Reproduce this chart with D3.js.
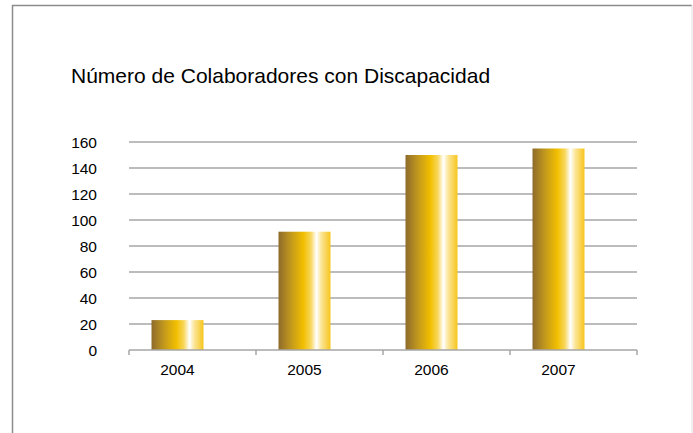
<!DOCTYPE html>
<html>
<head>
<meta charset="utf-8">
<script src="https://cdn.jsdelivr.net/npm/d3@7"></script>
<style>
  html, body { margin: 0; padding: 0; background: #fff; }
  svg { display: block; font-family: "Liberation Sans", Arial, sans-serif; }
</style>
</head>
<body>
<svg id="chart" width="693" height="433"></svg>
<script>
var years = ["2004", "2005", "2006", "2007"];
var colaboradores = [23, 91, 150, 155];
var yTicks = [0, 20, 40, 60, 80, 100, 120, 140, 160];
var chartTitle = "Número de Colaboradores con Discapacidad";

var svg = d3.select("#chart");
var plot = { left: 129, right: 637, top: 142, bottom: 350 };

// frame (the box runs off the bottom of the picture)
svg.append("path")
  .attr("d", "M12.5,433 V5.5 H692")
  .attr("fill", "none")
  .attr("stroke", "#8c8c8c")
  .attr("stroke-width", 1.5);
svg.append("line")
  .attr("x1", 692).attr("x2", 692).attr("y1", 5).attr("y2", 433)
  .attr("stroke", "#e0e0e0");

svg.append("text")
  .attr("x", 71).attr("y", 83)
  .attr("font-size", 21)
  .attr("fill", "#000")
  .text(chartTitle);

var x = d3.scaleBand().domain(years).range([plot.left, plot.right]);
var y = d3.scaleLinear().domain([0, 160]).range([plot.bottom, plot.top]);

// gradient for the cylinder look
var grad = svg.append("defs").append("linearGradient")
  .attr("id", "gold").attr("x1", "0").attr("x2", "1").attr("y1", "0").attr("y2", "0");
[[0, "#8e6b2c"], [0.25, "#c49a1c"], [0.48, "#f2bf00"], [0.62, "#f8d65a"],
 [0.73, "#ffffff"], [0.82, "#fbe69a"], [1, "#f7c51c"]].forEach(function(s) {
  grad.append("stop").attr("offset", s[0]).attr("stop-color", s[1]);
});

// gridlines
svg.append("g").selectAll("line").data(yTicks.slice(1)).join("line")
  .attr("x1", plot.left).attr("x2", plot.right)
  .attr("y1", function(d) { return y(d); }).attr("y2", function(d) { return y(d); })
  .attr("stroke", "#a6a6a6").attr("stroke-width", 1.5);

// y labels
svg.append("g").selectAll("text").data(yTicks).join("text")
  .attr("x", 97).attr("y", function(d) { return y(d) + 6; })
  .attr("text-anchor", "end")
  .attr("font-size", 15.5)
  .text(function(d) { return d; });

// bars sit left of the band centre, labels follow them
var barW = 52, shift = -15;
function barX(d) { return x(d) + x.bandwidth() / 2 + shift - barW / 2; }

svg.append("g").selectAll("rect").data(years).join("rect")
  .attr("x", barX)
  .attr("y", function(d, i) { return y(colaboradores[i]); })
  .attr("width", barW)
  .attr("height", function(d, i) { return y(0) - y(colaboradores[i]); })
  .attr("fill", "url(#gold)");

// x axis
var xAxis = svg.append("g").attr("transform", "translate(0," + plot.bottom + ")");
xAxis.append("line")
  .attr("x1", plot.left).attr("x2", plot.right)
  .attr("stroke", "#a6a6a6").attr("stroke-width", 1.5);
xAxis.selectAll("line.tick").data(years.concat(["end"])).join("line")
  .attr("class", "tick")
  .attr("x1", function(d) { return d === "end" ? plot.right : x(d); })
  .attr("x2", function(d) { return d === "end" ? plot.right : x(d); })
  .attr("y1", 0).attr("y2", 5)
  .attr("stroke", "#a6a6a6").attr("stroke-width", 1.5);
xAxis.selectAll("text").data(years).join("text")
  .attr("x", function(d) { return barX(d) + barW / 2; })
  .attr("y", 25)
  .attr("text-anchor", "middle")
  .attr("font-size", 15.5)
  .text(function(d) { return d; });
</script>
</body>
</html>
